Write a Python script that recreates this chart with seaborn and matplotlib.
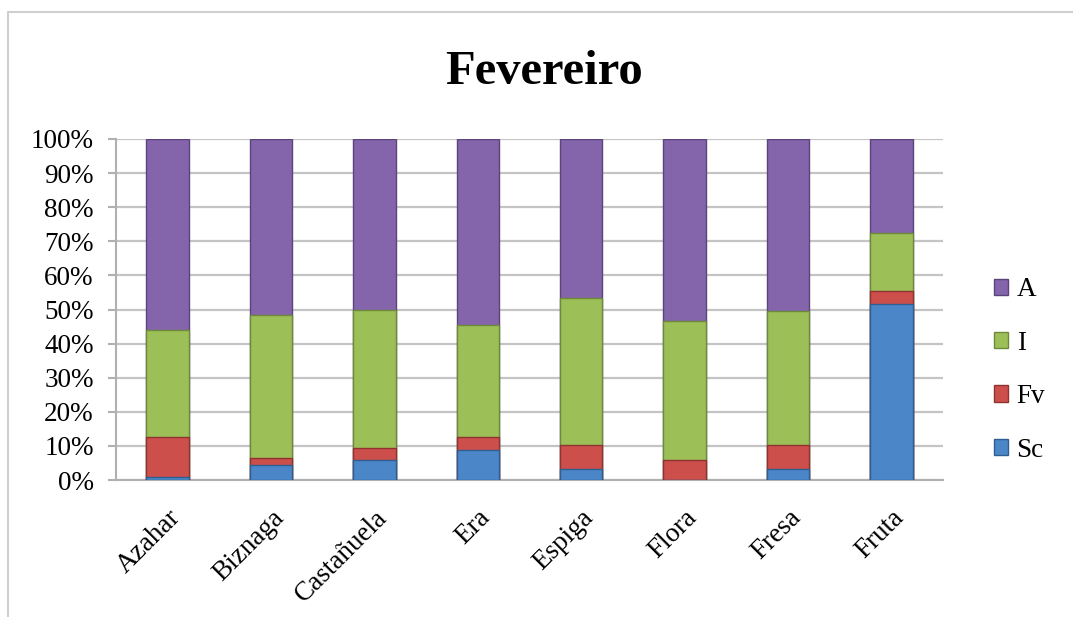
import numpy as np
import pandas as pd
import matplotlib
matplotlib.use("Agg")
import matplotlib.pyplot as plt
from matplotlib.lines import Line2D
from matplotlib.patches import Patch
import seaborn as sns

categories = ["Azahar", "Biznaga", "Castañuela", "Era", "Espiga", "Flora", "Fresa", "Fruta"]
Sc = [1.0, 4.4, 5.9, 8.8, 3.2, 0.0, 3.2, 51.7]
Fv = [11.6, 2.0, 3.4, 3.8, 7.2, 5.9, 7.2, 3.8]
I = [31.3, 42.0, 40.6, 32.9, 43.0, 40.8, 39.1, 16.8]
A = [56.1, 51.6, 50.1, 54.5, 46.6, 53.3, 50.5, 27.7]
series_names = ["Sc", "Fv", "I", "A"]
yticks = [0, 10, 20, 30, 40, 50, 60, 70, 80, 90, 100]
ytick_labels = [f"{v}%" for v in yticks]
title = "Fevereiro"

colors = {"Sc": "#4a86c8", "Fv": "#cc4f4b", "I": "#9dbf58", "A": "#8465ab"}
edges = {"Sc": "#2f5f92", "Fv": "#8f3330", "I": "#6d8a38", "A": "#5b4479"}

sns.set_style("white")
plt.rcParams["font.family"] = ["Liberation Serif", "DejaVu Serif"]
plt.rcParams["text.color"] = "black"
plt.rcParams["xtick.labelcolor"] = "black"
plt.rcParams["ytick.labelcolor"] = "black"

df = pd.DataFrame({"cat": categories, "Sc": Sc, "Fv": Fv, "I": I, "A": A})
tot = df[series_names].sum(axis=1)
for s in series_names:
    df[s] = df[s] / tot * 100
cum = df[series_names].cumsum(axis=1)

fig = plt.figure(figsize=(10.73, 6.17), dpi=100)
ax = fig.add_axes([116 / 1073, 1 - 480 / 617, (943 - 116) / 1073, (480 - 139) / 617])

for s in reversed(series_names):
    sns.barplot(x=df["cat"], y=cum[s], order=categories, color=colors[s],
                width=0.41, ax=ax, saturation=1, edgecolor=edges[s], linewidth=1.0,
                zorder=3)

ax.set_ylim(0, 100)
ax.set_xlim(-0.5, len(categories) - 0.5)
ax.set_yticks(yticks)
ax.set_yticklabels(ytick_labels, fontsize=19.5, color="black")
ax.set_xticks(range(len(categories)))
ax.set_xticklabels(categories, fontsize=19.5, rotation=45, ha="right",
                   rotation_mode="anchor", color="black")
ax.set_xticks(np.arange(-0.5, len(categories), 1.0), minor=True)
ax.tick_params(axis="x", which="major", length=0, pad=18)
ax.tick_params(axis="x", which="minor", length=6, width=1.5, color="#b0b0b0", direction="out")
ax.tick_params(axis="y", length=6, width=1.5, color="#b0b0b0", direction="out", pad=10, left=True)
ax.set_xlabel("")
ax.set_ylabel("")
ax.yaxis.grid(True, color="#c4c4c4", linewidth=1.6, zorder=0)
ax.set_axisbelow(True)
for side in ["top", "right"]:
    ax.spines[side].set_visible(False)
for side in ["left", "bottom"]:
    ax.spines[side].set_color("#b0b0b0")
    ax.spines[side].set_linewidth(1.5)

fig.text(544 / 1073, 1 - 72 / 617, title, fontsize=35, fontweight="bold",
         ha="center", va="center", color="black")

handles = [Patch(facecolor=colors[s], edgecolor=edges[s], label=s) for s in reversed(series_names)]
fig.legend(handles=handles, loc="center left", bbox_to_anchor=(980 / 1073, 1 - 370 / 617),
           frameon=False, fontsize=19.5, handlelength=0.55, handleheight=0.55,
           handletextpad=0.3, labelspacing=1.05, borderpad=0, labelcolor="black")

fig.add_artist(Line2D([8 / 1073, 1], [1 - 12 / 617, 1 - 12 / 617], color="#cfcfcf", lw=1.5))
fig.add_artist(Line2D([8 / 1073, 8 / 1073], [0, 1 - 12 / 617], color="#cfcfcf", lw=1.5))

fig.savefig("out.png", dpi=100)
